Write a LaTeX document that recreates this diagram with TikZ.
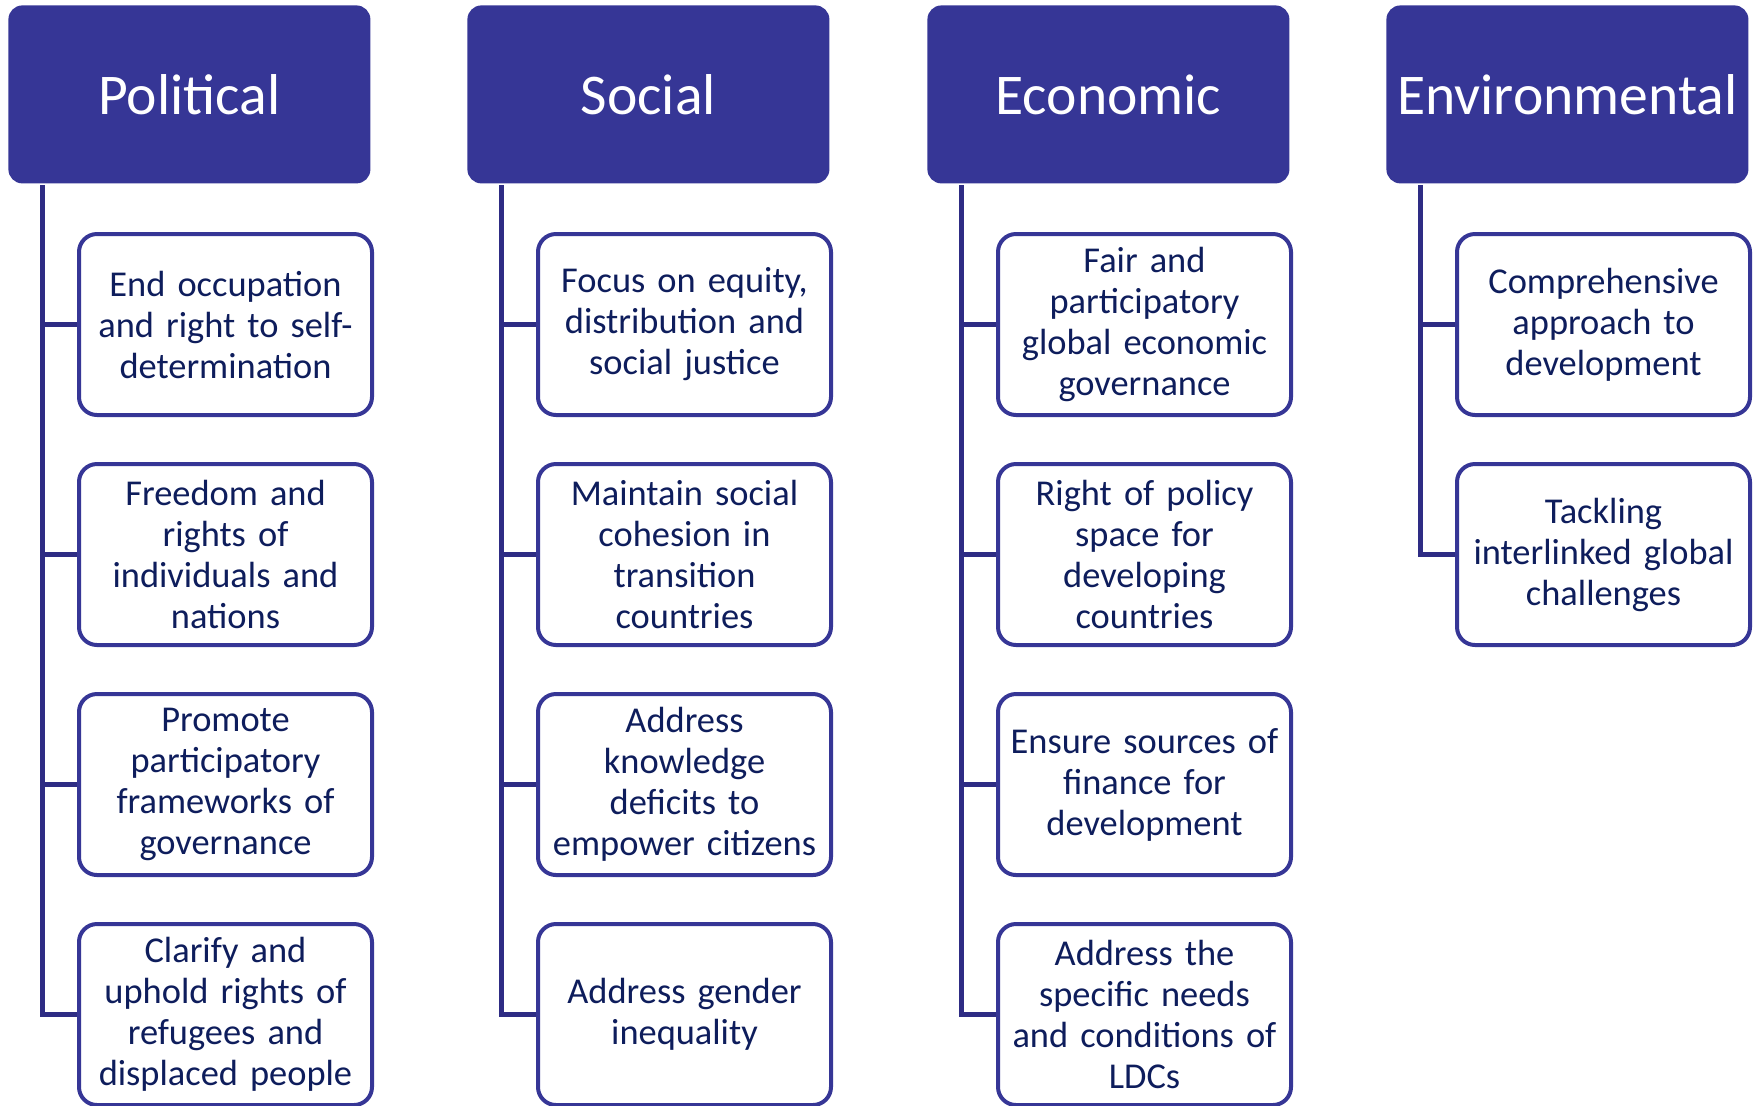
\documentclass[tikz,border=0pt]{standalone}
\usepackage{fontspec}
\setmainfont{Carlito}
\usetikzlibrary{positioning}
\definecolor{hdrblue}{HTML}{363696}
\definecolor{txtblue}{HTML}{0E1D5C}
\definecolor{linblue}{HTML}{2E2C84}

\begin{document}
\begin{tikzpicture}[x=0.5pt,y=-0.5pt,
  head/.style={fill=hdrblue, rounded corners=7pt, minimum width=181pt, minimum height=89pt,
    inner sep=0pt, text=white, font=\fontsize{28.8}{34}\selectfont, anchor=north west},
  item/.style={draw=hdrblue, line width=2pt, rounded corners=9pt, fill=white,
    minimum width=146.5pt, minimum height=90.5pt, text width=145pt, inner sep=0pt,
    align=center, text=txtblue, font=\fontsize{18.2}{20.5}\selectfont, anchor=north west},
  trunk/.style={draw=linblue, line width=2.5pt}]
\useasboundingbox (0,0) rectangle (1756,1105);

% headers
\node[head] (pol) at (8,5) {Political};
\node[head] (soc) at (467,5) {Social};
\node[head] (eco) at (927,5) {Economic};
\node[head] (env) at (1386,5) {Environmental};

% political
\node[item] (pol1) at (77,232) {End occupation\\and right to self-\\determination};
\node[item] (pol2) at (77,462) {Freedom and\\rights of\\individuals and\\nations};
\node[item] (pol3) at (77,692) {Promote\\participatory\\frameworks of\\governance};
\node[item] (pol4) at (77,922) {Clarify and\\uphold rights of\\refugees and\\displaced people};

% social
\node[item] (soc1) at (536,232) {Focus on equity,\\distribution and\\social justice};
\node[item] (soc2) at (536,462) {Maintain social\\cohesion in\\transition\\countries};
\node[item] (soc3) at (536,692) {Address\\knowledge\\deficits to\\empower citizens};
\node[item] (soc4) at (536,922) {Address gender\\inequality};

% economic
\node[item] (eco1) at (996,232) {Fair and\\participatory\\global economic\\governance};
\node[item] (eco2) at (996,462) {Right of policy\\space for\\developing\\countries};
\node[item] (eco3) at (996,692) {Ensure sources of\\finance for\\development};
\node[item] (eco4) at (996,922) {Address the\\specific needs\\and conditions of\\LDCs};

% environmental
\node[item] (env1) at (1455,232) {Comprehensive\\approach to\\development};
\node[item] (env2) at (1455,462) {Tackling\\interlinked global\\challenges};

% trunks
\coordinate (polt) at (42,185);
\coordinate (soct) at (501,185);
\coordinate (ecot) at (961,185);
\coordinate (envt) at (1420,185);

\draw[trunk] (polt) |- (pol4.west);
\draw[trunk] (polt |- pol1.west) -- (pol1.west);
\draw[trunk] (polt |- pol2.west) -- (pol2.west);
\draw[trunk] (polt |- pol3.west) -- (pol3.west);

\draw[trunk] (soct) |- (soc4.west);
\draw[trunk] (soct |- soc1.west) -- (soc1.west);
\draw[trunk] (soct |- soc2.west) -- (soc2.west);
\draw[trunk] (soct |- soc3.west) -- (soc3.west);

\draw[trunk] (ecot) |- (eco4.west);
\draw[trunk] (ecot |- eco1.west) -- (eco1.west);
\draw[trunk] (ecot |- eco2.west) -- (eco2.west);
\draw[trunk] (ecot |- eco3.west) -- (eco3.west);

\draw[trunk] (envt) |- (env2.west);
\draw[trunk] (envt |- env1.west) -- (env1.west);
\end{tikzpicture}
\end{document}
